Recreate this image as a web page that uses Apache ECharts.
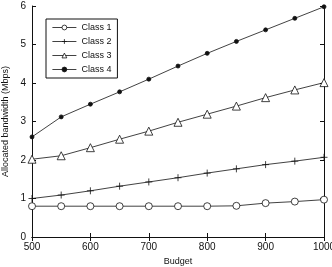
<!DOCTYPE html>
<html>
<head>
<meta charset="utf-8">
<script src="https://cdn.jsdelivr.net/npm/echarts@6/dist/echarts.min.js"></script>
<style>
html, body { margin: 0; padding: 0; background: #fff; }
#chart { width: 332px; height: 267px; }
</style>
</head>
<body>
<div id="chart"></div>
<script>
// budget on x, bandwidth per class on y
const budgets = [500, 550, 600, 650, 700, 750, 800, 850, 900, 950, 1000];
const class1 = [0.8, 0.8, 0.8, 0.8, 0.8, 0.8, 0.8, 0.81, 0.88, 0.92, 0.97];
const class2 = [1.0, 1.09, 1.2, 1.32, 1.43, 1.54, 1.66, 1.77, 1.88, 1.97, 2.07];
const class3 = [2.02, 2.11, 2.32, 2.54, 2.75, 2.98, 3.19, 3.4, 3.62, 3.82, 4.01];
const class4 = [2.6, 3.12, 3.45, 3.77, 4.1, 4.44, 4.77, 5.08, 5.38, 5.68, 5.98];
const seriesNames = ['Class 1', 'Class 2', 'Class 3', 'Class 4'];

const plus = 'path://M5,0 L5,10 M0,5 L10,5';
const font = 'Liberation Sans';
const ink = '#111';

function pairs(vals) {
    return budgets.map((b, i) => [b, vals[i]]);
}

const mk = (name, vals, symbol, size, fill) => ({
    name: name,
    type: 'line',
    data: pairs(vals),
    symbol: symbol,
    symbolSize: size,
    showAllSymbol: true,
    clip: false,
    lineStyle: { color: ink, width: 0.8 },
    itemStyle: { color: fill, borderColor: ink, borderWidth: 0.8 },
    animation: false
});

const axisCommon = {
    axisLine: { show: true, lineStyle: { color: ink, width: 1 } },
    axisTick: { show: true, inside: true, length: 4, lineStyle: { color: ink } },
    splitLine: { show: false }
};

const chart = echarts.init(document.getElementById('chart'));
chart.setOption({
    animation: false,
    textStyle: { fontFamily: font },
    grid: { left: 32, right: 8, top: 6, bottom: 30, containLabel: false, outerBoundsMode: 'none' },
    legend: {
        data: seriesNames,
        orient: 'vertical',
        left: 46,
        top: 19,
        itemWidth: 24,
        itemHeight: 6,
        itemGap: 5,
        padding: [4, 6, 4, 6],
        borderColor: ink,
        borderWidth: 1,
        itemStyle: { borderWidth: 0.8 },
        lineStyle: { width: 0.8 },
        textStyle: { fontSize: 9, color: ink, fontFamily: font }
    },
    xAxis: [
        Object.assign({
            type: 'value', min: 500, max: 1000, interval: 100,
            name: 'Budget', nameLocation: 'middle', nameGap: 18,
            nameTextStyle: { fontSize: 9, color: ink },
            axisLabel: { fontSize: 10, color: ink, margin: 5, formatter: v => String(v) }
        }, axisCommon),
        Object.assign({
            type: 'value', position: 'top', min: 500, max: 1000, interval: 100,
            axisLabel: { show: false }
        }, axisCommon)
    ],
    yAxis: [
        Object.assign({
            type: 'value', min: 0, max: 6, interval: 1,
            name: 'Allocated bandwidth (Mbps)', nameLocation: 'middle', nameGap: 17,
            nameTextStyle: { fontSize: 9, color: ink },
            axisLabel: { fontSize: 10, color: ink, margin: 6 }
        }, axisCommon),
        Object.assign({
            type: 'value', position: 'right', min: 0, max: 6, interval: 1,
            axisLabel: { show: false }
        }, axisCommon)
    ],
    series: [
        mk('Class 1', class1, 'circle', 7, '#fff'),
        mk('Class 2', class2, plus, 7, ink),
        mk('Class 3', class3, 'triangle', 8, '#fff'),
        mk('Class 4', class4, 'circle', 4, ink)
    ]
});
</script>
</body>
</html>
